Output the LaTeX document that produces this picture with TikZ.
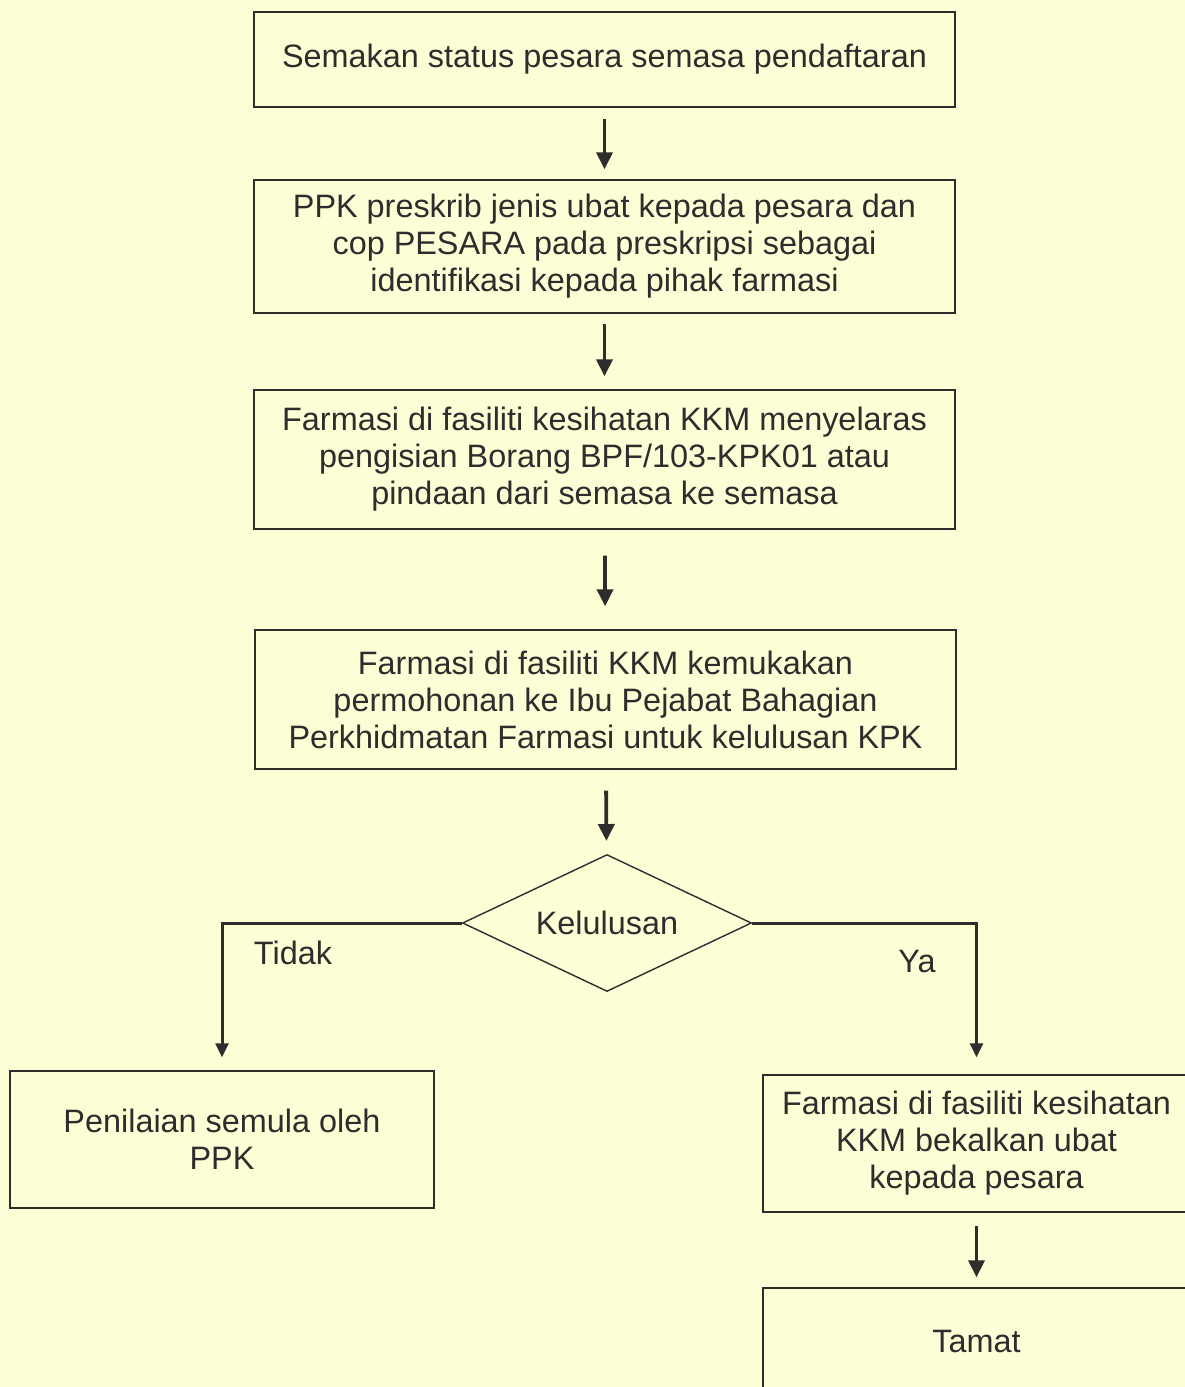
\documentclass[tikz,border=0pt]{standalone}
\usepackage{fontspec}
\setmainfont{Liberation Sans}
\usetikzlibrary{shapes.geometric,arrows.meta}
\definecolor{bg}{RGB}{254,254,214}
\definecolor{ink}{RGB}{45,45,45}
\begin{document}
\begin{tikzpicture}[x=1pt,y=-1pt,
  txt/.style={text=ink,font=\fontsize{32.4}{37}\selectfont},
  box/.style={txt,draw=ink,line width=1.4pt,inner sep=0pt,align=center},
  cond/.style={txt,draw=ink,line width=1.4pt,shape=diamond,aspect=2.11,inner sep=0pt,minimum width=289pt,minimum height=137pt},
  flow/.style={draw=ink,line width=3.8pt,-{Triangle[width=16pt,length=17pt]}},
  branch/.style={draw=ink,line width=3pt,-{Triangle[width=13pt,length=14pt]}}]
\useasboundingbox (0,0) rectangle (1185,1387);
\fill[bg] (0,0) rectangle (1185,1387);
\clip (0,0) rectangle (1185,1387);

\node[box,minimum width=701pt,minimum height=95pt] (b1) at (604.5,59.5)
  {Semakan status pesara semasa pendaftaran};
\node[box,minimum width=701pt,minimum height=133pt] (b2) at (604.5,246.5)
  {PPK preskrib jenis ubat kepada pesara dan\\cop PESARA pada preskripsi sebagai\\identifikasi kepada pihak farmasi};
\node[box,minimum width=701pt,minimum height=139pt] (b3) at (604.5,459.5)
  {Farmasi di fasiliti kesihatan KKM menyelaras\\pengisian Borang BPF/103-KPK01 atau\\pindaan dari semasa ke semasa};
\node[box,minimum width=701pt,minimum height=139pt] (b4) at (605.5,699.5)
  {Farmasi di fasiliti KKM kemukakan\\permohonan ke Ibu Pejabat Bahagian\\Perkhidmatan Farmasi untuk kelulusan KPK};
\node[cond] (d) at (607,923) {Kelulusan};
\node[box,minimum width=424pt,minimum height=137pt] (pb) at (222,1139.5)
  {Penilaian semula oleh\\PPK};
\node[box,minimum width=427pt,minimum height=137pt] (rb) at (976.5,1143.5)
  {Farmasi di fasiliti kesihatan\\KKM bekalkan ubat\\kepada pesara};
\node[box,minimum width=427pt,minimum height=106pt] (tb) at (976.5,1341) {Tamat};

\node[txt] (tidak) at (293,953) {Tidak};
\node[txt] (ya) at (917,961) {Ya};

\draw[flow,shorten <=11pt,shorten >=10pt] (b1) -- (b2);
\draw[flow,shorten <=10pt,shorten >=13pt] (b2) -- (b3);
\draw[flow,shorten <=26pt,shorten >=23pt] (b3) -- (b4);
\draw[flow,shorten <=21pt,shorten >=13pt] (b4) -- (d);
\draw[branch,shorten >=13pt] (d.west) -| (pb.north);
\draw[branch,shorten >=17pt] (d.east) -| (rb.north);
\draw[flow,shorten <=13pt,shorten >=10pt] (rb) -- (tb);
\end{tikzpicture}
\end{document}
